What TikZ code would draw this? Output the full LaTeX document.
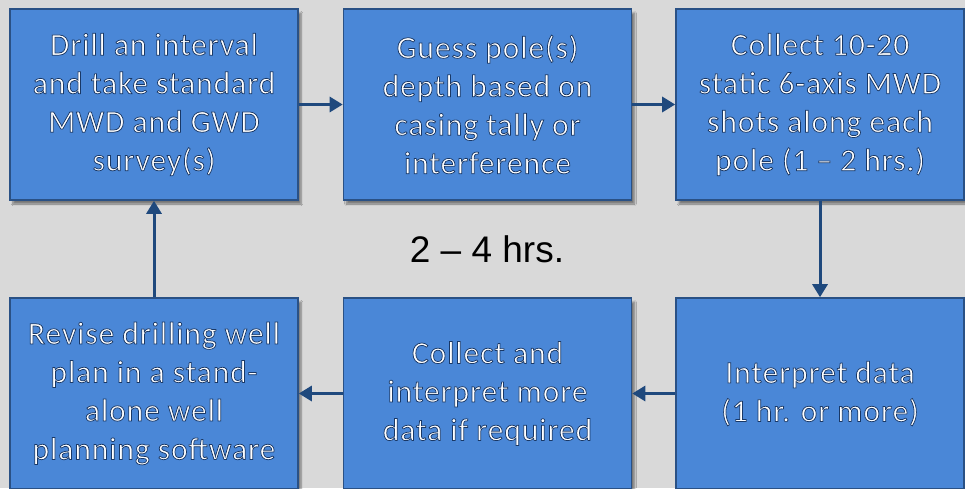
\documentclass[tikz,border=0pt]{standalone}
\usepackage{fontspec}
\setmainfont{Carlito}[LetterSpace=3]
\newfontfamily\labelfont{Liberation Sans}
\usetikzlibrary{arrows.meta,shadows.blur}
\definecolor{bgGray}{HTML}{D9D9D9}
\definecolor{boxFill}{HTML}{4A87D7}
\definecolor{boxLine}{HTML}{2A5185}
\definecolor{arrowBlue}{HTML}{1F497D}
% white glyphs with a thin dark blue edge (fill + stroke render mode)
\newcommand{\wtext}[1]{%
  \special{pdf:literal direct 2 Tr 0.75 w 0.10 0.22 0.40 RG}#1%
  \special{pdf:literal direct 0 Tr}}
\tikzset{
  stepbox/.style={draw=boxLine, line width=1.6pt, fill=boxFill,
    minimum width=288pt, minimum height=191pt, inner sep=0pt,
    align=center, text=white, font=\fontsize{31.5}{38.5}\selectfont,
    blur shadow={shadow xshift=3pt, shadow yshift=-4pt, shadow blur steps=6, shadow opacity=45}},
  flow/.style={draw=arrowBlue, line width=3pt,
    -{Triangle[length=13pt,width=15pt]}}
}
\begin{document}
\begin{tikzpicture}[x=1pt,y=-1pt]
  \fill[bgGray] (0,0) rectangle (965,488);
  \useasboundingbox (0,0) rectangle (965,488);
  % top row
  \node[stepbox] (b1) at (154,104.5) {\wtext{Drill an interval}\\ \wtext{and take standard}\\ \wtext{MWD and GWD}\\ \wtext{survey(s)}};
  \node[stepbox] (b2) at (487.5,104.5) {\wtext{Guess pole(s)}\\ \wtext{depth based on}\\ \wtext{casing tally or}\\ \wtext{interference}};
  \node[stepbox] (b3) at (820,104.5) {\wtext{Collect 10-20}\\ \wtext{static 6-axis MWD}\\ \wtext{shots along each}\\ \wtext{pole (1 – 2 hrs.)}};
  % bottom row
  \node[stepbox] (b4) at (820,393.5) {\wtext{Interpret data}\\ \wtext{(1 hr. or more)}};
  \node[stepbox] (b5) at (487.5,393.5) {\wtext{Collect and}\\ \wtext{interpret more}\\ \wtext{data if required}};
  \node[stepbox] (b6) at (154,393.5) {\wtext{Revise drilling well}\\ \wtext{plan in a stand-}\\ \wtext{alone well}\\ \wtext{planning software}};
  % cycle time
  \node[font=\labelfont\fontsize{37}{42}\selectfont, text=black] (t) at (487,249) {2 – 4 hrs.};
  % connectors
  \draw[flow] (b1.east) -- (b2.west);
  \draw[flow] (b2.east) -- (b3.west);
  \draw[flow] (b3.south) -- (b4.north);
  \draw[flow] (b4.west) -- (b5.east);
  \draw[flow] (b5.west) -- (b6.east);
  \draw[flow] (b6.north) -- (b1.south);
\end{tikzpicture}
\end{document}
